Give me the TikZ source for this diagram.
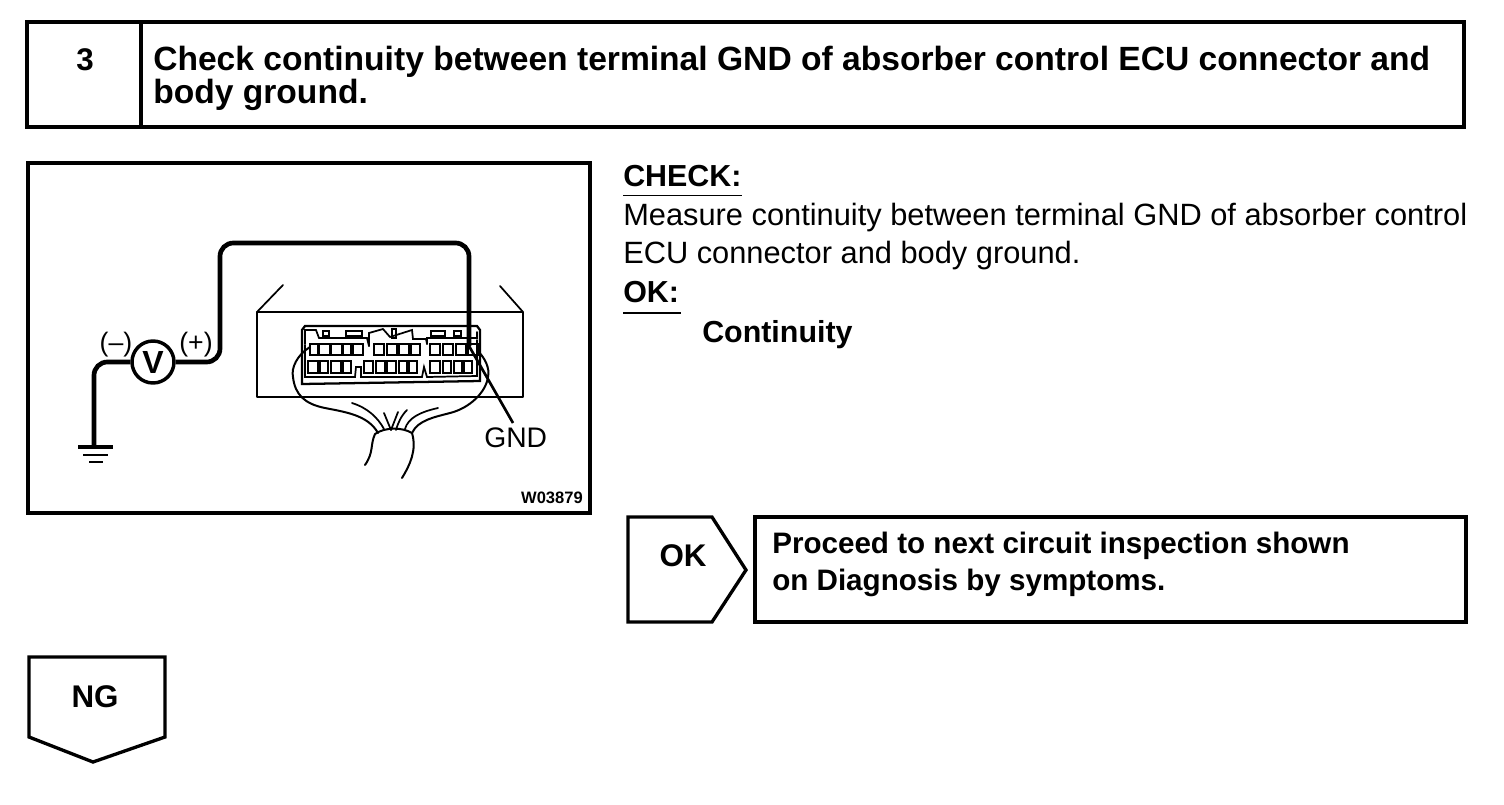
\documentclass[tikz,border=0pt]{standalone}
\usepackage{fontspec}
\setmainfont{Liberation Sans}
\tikzset{
 frame/.style={draw=black,line width=2.5pt,fill=white},
 thin frame/.style={draw=black,line width=1.8pt},
 wire/.style={draw=black,line width=3.5pt,rounded corners=10},
 sketch/.style={draw=black,line width=1.3pt,line cap=round},
 harness/.style={draw=black,line width=1.5pt,line cap=round},
 cellbox/.style={draw=black,line width=1.4pt},
 txt/.style={inner sep=0pt,anchor=base west,font=\fontsize{23.1pt}{24pt}\selectfont},
 btxt/.style={inner sep=0pt,anchor=base west,font=\fontsize{22.8pt}{24pt}\selectfont\bfseries},
 ttl/.style={inner sep=0pt,anchor=base west,font=\fontsize{25.2pt}{24pt}\selectfont\bfseries},
 ptxt/.style={inner sep=0pt,anchor=base west,font=\fontsize{22.2pt}{24pt}\selectfont\bfseries},
 ctr/.style={inner sep=0pt,anchor=center,font=\fontsize{23.5pt}{24pt}\selectfont\bfseries},
}
\begin{document}
\begin{tikzpicture}[x=0.75pt,y=-0.75pt]
\useasboundingbox[fill=white] (0,0) rectangle (1504,804);
% header
\draw[frame] (27,22) rectangle (1464,127);
\draw[frame] (141,22) -- (141,127);
\node[ctr] (num) at (85,60) {3};
\node[ttl] (t1) at (153,70) {Check continuity between terminal GND of absorber control ECU connector and};
\node[ttl] (t2) at (153,103) {body ground.};
% figure frame
\draw[frame] (28,163) rectangle (590,513);
% right text
\node[btxt] (chk) at (623,186) {CHECK:};
\draw[line width=1.4pt] (623,195.5) -- (742,195.5);
\node[txt] (m1) at (623,225) {Measure continuity between terminal GND of absorber control};
\node[txt] (m2) at (623,263) {ECU connector and body ground.};
\node[btxt] (okh) at (623,302) {OK:};
\draw[line width=1.4pt] (623,313) -- (681,313);
\node[btxt] (cont) at (702,342) {Continuity};
% OK arrow
\draw[frame,line join=miter] (628,517) -- (712,517) -- (746,570) -- (712,622) -- (628,622) -- cycle;
\node[ctr] (oklab) at (683,556) {OK};
\draw[frame] (755,517) rectangle (1466,622);
\node[ptxt] (p1) at (772,553) {Proceed to next circuit inspection shown};
\node[ptxt] (p2) at (772,590) {on Diagnosis by symptoms.};
% NG
\draw[frame,line join=miter] (29,657) -- (165,657) -- (165,737) -- (93,762) -- (29,737) -- cycle;
\node[ctr] (nglab) at (95,697) {NG};
% ECU body
\draw[thin frame,line join=round] (257,312) -- (523,312) -- (523,397) -- (257,397) -- cycle;
\draw[sketch] (257,312) -- (283,285);
\draw[sketch] (523,312) -- (500,286);
% connector outline
\draw[line width=1.7pt] (302,330) -- (305,326) -- (477,326) -- (480,330) -- (480,381) -- (302,384) -- cycle;
\draw[sketch] (305,344) -- (305,330) -- (316,330) -- (319,338) -- (367,338) -- (369,346);
\draw[sketch] (369,346) -- (369,333) -- (383,329) -- (390,337) -- (412,330) -- (413,339) -- (426,339) -- (427,344);
\draw[sketch] (427,344) -- (427,338) -- (477,338) -- (477,332);
\draw[sketch] (323,331) rectangle (329,336);
\draw[sketch] (346,331) rectangle (362,336);
\draw[sketch] (392,329) rectangle (396,338);
\draw[sketch] (431,331) rectangle (445,336);
\draw[sketch] (454,331) rectangle (461,336);
\foreach \a/\b in {310/318,319/330,331/342,343/351,353/363,374/384,387/397,399/409,411/420,430/440,443/453,456/466,468/478}
  \draw[cellbox] (\a,344) rectangle (\b,355);
\foreach \a/\b in {308/318,320/328,331/341,343/351,364/373,376/385,387/396,399/407,409/417,430/440,443/451,454/462,464/472}
  \draw[cellbox] (\a,361) rectangle (\b,373);
\draw[sketch] (305,345) -- (305,377) -- (355,377) -- (356,367) -- (361,367) -- (361,377) -- (422,377) -- (424,367) -- (427,377) -- (477,376) -- (477,340);
% harness loop
\draw[harness] (310,347) .. controls (297,355) and (291,368) .. (293,377) .. controls (295,395) and (305,404) .. (325,408) .. controls (345,412) and (368,415) .. (378,433);
\draw[harness] (477,350) .. controls (485,358) and (490,368) .. (488,377) .. controls (486,392) and (470,408) .. (450,413) .. controls (435,417) and (418,420) .. (412,433);
% harness wires
\draw[sketch] (352,403) .. controls (368,408) and (378,418) .. (384,429);
\draw[sketch] (384,413) -- (391,430);
\draw[sketch] (398,412) -- (391,430);
\draw[sketch] (407,410) .. controls (401,416) and (398,423) .. (396,430);
\draw[sketch] (438,408) .. controls (420,412) and (408,418) .. (405,429);
\draw[harness] (375,434) .. controls (385,427) and (402,427) .. (412,433);
\draw[harness] (375,434) .. controls (370,445) and (374,452) .. (365,465);
\draw[harness] (412,433) .. controls (417,450) and (410,465) .. (402,478);
% meter and wires
\node[draw=black,line width=2.6pt,circle,minimum size=31.5pt,inner sep=0pt,fill=white,font=\fontsize{24pt}{24pt}\selectfont\bfseries] (meter) at (153,362) {V};
\coordinate (pin) at (469,346);
\coordinate (gnd) at (94,447);
\draw[wire] (meter.east) -- (220,362) -- (220,243) -- (469,243) -- (pin);
\draw[wire] (meter.west) -- (94,362) -- (gnd);
\draw[line width=2.6pt] (78,447) -- (113,447);
\draw[line width=2.2pt] (83,455) -- (108,455);
\draw[line width=2pt] (89,462) -- (103,462);
\node[inner sep=0pt,font=\fontsize{20pt}{20pt}\selectfont] (minus) at (116,345) {(–)};
\node[inner sep=0pt,font=\fontsize{20pt}{20pt}\selectfont] (plus) at (196,345) {(+)};
% GND
\node[inner sep=0pt,anchor=base west,font=\fontsize{21.2pt}{24pt}\selectfont] (gndlab) at (484,447) {GND};
\coordinate (gndtip) at (513,423);
\draw[line width=2pt] (pin) -- (gndtip);
% code
\node[inner sep=0pt,anchor=base east,font=\fontsize{12.4pt}{12pt}\selectfont\bfseries] (code) at (583,503) {W03879};
\end{tikzpicture}
\end{document}
